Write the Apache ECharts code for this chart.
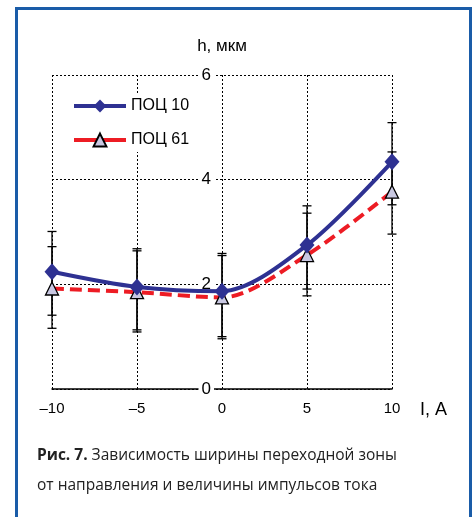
<!DOCTYPE html>
<html><head><meta charset="utf-8">
<script src="https://cdn.jsdelivr.net/npm/echarts@6/dist/echarts.min.js"></script>
<style>html,body{margin:0;padding:0;background:#fff}#c{width:475px;height:517px}</style>
</head><body><div id="c"></div>
<script>
const xValues = [-10, -5, 0, 5, 10];
const poc10 = [2.24, 1.95, 1.87, 2.75, 4.34];
const poc61 = [1.92, 1.85, 1.75, 2.56, 3.77];
const poc10Low = [1.41, 1.13, 1.00, 1.91, 3.52];
const poc10High = [3.01, 2.68, 2.59, 3.50, 5.09];
const poc61Low = [1.16, 1.09, 0.96, 1.78, 2.96];
const poc61High = [2.72, 2.64, 2.55, 3.36, 4.53];
const seriesNames = ['ПОЦ 10', 'ПОЦ 61'];
const xName = 'I, A';
const yName = 'h, мкм';
const captionBold = 'Рис. 7.';
const captionLine1 = ' Зависимость ширины переходной зоны';
const captionLine2 = 'от направления и величины импульсов тока';

const chart = echarts.init(document.getElementById('c'));
const font = 'Liberation Sans, Arial, sans-serif';
const errData = [];
xValues.forEach((x, i) => {
  errData.push([x, poc10Low[i], poc10High[i]]);
  errData.push([x, poc61Low[i], poc61High[i]]);
});
const dash = { color: '#000', width: 1, type: [2, 2] };
const gridLeft = 52, gridRight = 83;
const plotWidth = 475 - gridLeft - gridRight;

chart.setOption({
  animation: false,
  textStyle: { fontFamily: font },
  grid: { left: gridLeft, right: gridRight, top: 75, bottom: 128 },
  xAxis: {
    type: 'value', min: -10, max: 10, interval: 5,
    name: xName, nameLocation: 'end', nameGap: 28,
    nameTextStyle: { fontSize: 18, color: '#000', verticalAlign: 'top', padding: [12, 0, 0, 0], fontFamily: font },
    axisLine: { show: true, onZero: false, lineStyle: { color: '#000', width: 1.5 } },
    axisTick: { show: false },
    axisLabel: { color: '#000', fontSize: 15, margin: 12, fontFamily: font,
      formatter: v => String(v).replace('-', '–') },
    splitLine: { show: true, lineStyle: dash }
  },
  yAxis: {
    type: 'value', min: 0, max: 6, interval: 2,
    offset: -plotWidth / 2,
    name: yName, nameLocation: 'end', nameGap: 20,
    nameTextStyle: { fontSize: 17, color: '#000', fontFamily: font, align: 'center' },
    axisLine: { show: false, onZero: false },
    axisTick: { show: false },
    axisLabel: { color: '#000', fontSize: 17, margin: 8, fontFamily: font,
      backgroundColor: '#fff', padding: [0, 3, 0, 3] },
    splitLine: { show: true, lineStyle: dash }
  },
  legend: {
    orient: 'vertical', left: 70, top: 94, itemWidth: 52, itemHeight: 16, itemGap: 18,
    backgroundColor: '#fff', padding: [4, 4, 4, 2],
    textStyle: { fontSize: 16, color: '#000', fontFamily: font },
    data: [
      { name: seriesNames[0], lineStyle: { width: 4 } },
      { name: seriesNames[1], lineStyle: { type: 'solid', width: 4 } }
    ]
  },
  series: [
    {
      type: 'custom', name: 'err', silent: true, z: 1,
      data: errData,
      renderItem: (params, api) => {
        const x = api.value(0);
        const lo = api.coord([x, api.value(1)]);
        const hi = api.coord([x, api.value(2)]);
        const w = 4.5;
        const st = { stroke: '#000', lineWidth: 1.3 };
        return { type: 'group', children: [
          { type: 'line', shape: { x1: lo[0], y1: lo[1], x2: hi[0], y2: hi[1] }, style: st },
          { type: 'line', shape: { x1: lo[0] - w, y1: lo[1], x2: lo[0] + w, y2: lo[1] }, style: st },
          { type: 'line', shape: { x1: hi[0] - w, y1: hi[1], x2: hi[0] + w, y2: hi[1] }, style: st }
        ]};
      }
    },
    {
      type: 'line', name: seriesNames[1], z: 3, smooth: 0.3,
      data: xValues.map((x, i) => [x, poc61[i]]),
      lineStyle: { color: '#ed1c24', width: 4, type: [12, 6] },
      symbol: 'triangle', symbolSize: 13,
      itemStyle: { color: '#c9c8e2', borderColor: '#000', borderWidth: 1.3 }
    },
    {
      type: 'line', name: seriesNames[0], z: 4, smooth: 0.3,
      data: xValues.map((x, i) => [x, poc10[i]]),
      lineStyle: { color: '#2e3192', width: 4 },
      symbol: 'diamond', symbolSize: [15, 17],
      itemStyle: { color: '#2e3192', borderColor: '#2e3192', borderWidth: 0 }
    }
  ],
  graphic: [
    { type: 'rect', shape: { x: 16.5, y: 8.5, width: 454, height: 530 },
      style: { fill: null, stroke: '#1a5ca8', lineWidth: 3 }, silent: true },
    { type: 'text', left: 37, top: 448,
      style: { text: '{b|' + captionBold + '}' + captionLine1, fontSize: 15.5, fontFamily: 'Open Sans, sans-serif', fill: '#222',
        rich: { b: { fontWeight: 'bold', fontSize: 15.5, fontFamily: 'Open Sans, sans-serif', fill: '#222' } } } },
    { type: 'text', left: 37, top: 478,
      style: { text: captionLine2, fontSize: 15.5, fontFamily: 'Open Sans, sans-serif', fill: '#222' } }
  ]
});
</script></body></html>
